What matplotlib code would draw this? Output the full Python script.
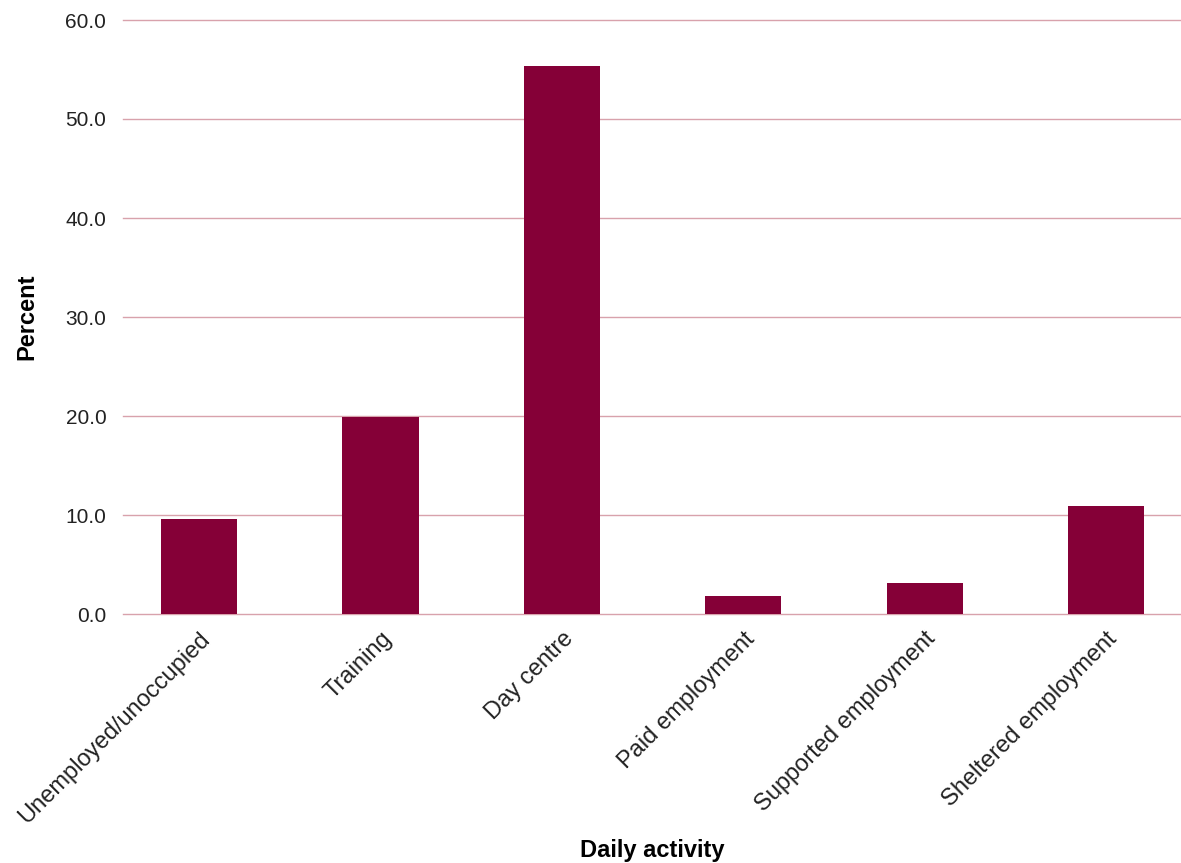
import numpy as np
import matplotlib as mpl
import matplotlib.pyplot as plt

mpl.rc('font', family=['Liberation Sans', 'DejaVu Sans'], size=15)

categories = ['Unemployed/unoccupied', 'Training', 'Day centre',
              'Paid employment', 'Supported employment', 'Sheltered employment']
percent = [9.6, 19.9, 55.4, 1.8, 3.1, 10.9]
y_ticks = [0, 10, 20, 30, 40, 50, 60]

fig = plt.figure(figsize=(11.81, 8.63), dpi=100)
ax = fig.add_axes([123 / 1181, 249 / 863, 1 - 123 / 1181, 594 / 863])

x = np.arange(len(categories))
ax.bar(x, percent, width=0.42, color='#850037', zorder=3)
ax.set_xlim(-0.419, 5.413)
ax.set_ylim(0, 60)
ax.set_yticks(y_ticks)
ax.set_yticklabels([f'{v:.1f}' for v in y_ticks], color='#222222')
ax.set_xticks(x)
ax.set_xticklabels(categories, rotation=45, ha='right',
                   rotation_mode='anchor', color='#222222', fontsize=17)
ax.tick_params(axis='both', length=0)
ax.tick_params(axis='y', pad=12)
ax.tick_params(axis='x', pad=10)
ax.yaxis.grid(True, color='#d8a2ac', linewidth=1, zorder=0)
for line in ax.get_ygridlines():
    line.set_clip_on(False)
for s in ax.spines.values():
    s.set_visible(False)
ax.set_ylabel('Percent', fontweight='bold', fontsize=17, va='center')
ax.set_xlabel('Daily activity', fontweight='bold', fontsize=17, va='center')
ax.xaxis.set_label_coords((652 - 123) / 1058, -(850 - 614) / 594)
ax.yaxis.set_label_coords(-(123 - 27) / 1058, (614 - 317) / 594)
fig.savefig('out.png', dpi=100)
